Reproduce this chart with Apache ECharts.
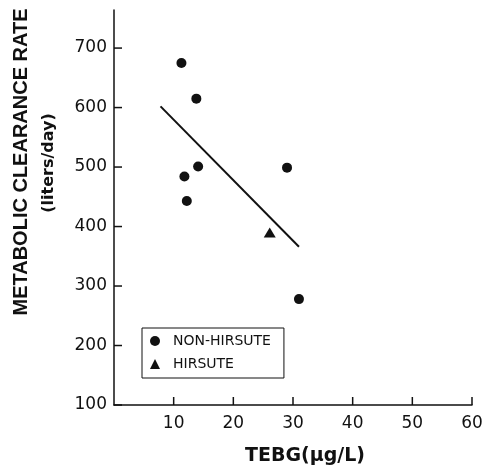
<!DOCTYPE html>
<html>
<head>
<meta charset="utf-8">
<script src="https://cdn.jsdelivr.net/npm/echarts@6/dist/echarts.min.js"></script>
<style>
  html, body { margin: 0; padding: 0; background: #fff; }
  #chart { width: 490px; height: 470px; }
</style>
</head>
<body>
<div id="chart"></div>
<script>
// Datos
const nonHirsuteX = [11.3, 13.8, 14.1, 11.8, 12.2, 29.0, 31.0];
const nonHirsuteY = [675, 615, 501, 484, 443, 499, 278];
const hirsuteX = [26.1];
const hirsuteY = [390];
const fitX = [7.8, 31.0];
const fitY = [602, 366];
const xTicks = [10, 20, 30, 40, 50, 60];
const yTicks = [100, 200, 300, 400, 500, 600, 700];

function pairs(xs, ys) {
    return xs.map((x, i) => [x, ys[i]]);
}

const chart = echarts.init(document.getElementById('chart'));
const ink = '#111';
const tickLen = 8;

// Marcas de los ejes hacia dentro, dibujadas con la escala del grafico
function tickRenderer(dx, dy) {
    return function(params, api) {
        const p = api.coord([api.value(0), api.value(1)]);
        return {
            type: 'line',
            shape: { x1: p[0], y1: p[1], x2: p[0] + dx, y2: p[1] + dy },
            style: { stroke: ink, lineWidth: 1.5 }
        };
    };
}

chart.setOption({
    animation: false,
    backgroundColor: '#fff',
    grid: { left: 114, right: 18, top: 10, bottom: 65, outerBoundsMode: 'none' },
    xAxis: {
        type: 'value',
        min: 0,
        max: 60,
        axisLine: { show: true, lineStyle: { color: ink, width: 1.5 } },
        axisTick: { show: false },
        axisLabel: { customValues: xTicks, color: ink, fontSize: 17, fontFamily: 'DejaVu Sans', margin: 10 },
        splitLine: { show: false }
    },
    yAxis: {
        type: 'value',
        min: 100,
        max: 764,
        axisLine: { show: true, lineStyle: { color: ink, width: 1.5 } },
        axisTick: { show: false },
        axisLabel: { customValues: yTicks, color: ink, fontSize: 17, fontFamily: 'DejaVu Sans', margin: 7 },
        splitLine: { show: false }
    },
    legend: {
        orient: 'vertical',
        left: 142,
        top: 328,
        padding: [6, 13, 7, 8],
        itemGap: 9,
        itemWidth: 10,
        itemHeight: 10,
        borderColor: ink,
        borderWidth: 1,
        data: [
            { name: 'NON-HIRSUTE', icon: 'circle' },
            { name: 'HIRSUTE', icon: 'triangle' }
        ],
        textStyle: { color: ink, fontSize: 14, fontFamily: 'DejaVu Sans', padding: [0, 0, 0, 8] }
    },
    graphic: [
        {
            type: 'text', x: 21, y: 162, rotation: Math.PI / 2,
            style: { text: 'METABOLIC CLEARANCE RATE', fill: ink, font: 'bold 20px "Liberation Sans"', textAlign: 'center', verticalAlign: 'middle', textVerticalAlign: 'middle' }
        },
        {
            type: 'text', x: 49, y: 163, rotation: Math.PI / 2,
            style: { text: '(liters/day)', fill: ink, font: 'bold 16px "DejaVu Sans"', textAlign: 'center', verticalAlign: 'middle', textVerticalAlign: 'middle' }
        },
        {
            type: 'text', x: 305, y: 456,
            style: { text: 'TEBG(\u03bcg/L)', fill: ink, font: 'bold 19px "DejaVu Sans"', textAlign: 'center', verticalAlign: 'middle', textVerticalAlign: 'middle' }
        }
    ],
    series: [
        {
            name: 'xTicks',
            type: 'custom',
            data: xTicks.map(v => [v, 100]),
            renderItem: tickRenderer(0, -tickLen),
            silent: true,
            z: 2
        },
        {
            name: 'yTicks',
            type: 'custom',
            data: yTicks.map(v => [0, v]),
            renderItem: tickRenderer(tickLen, 0),
            silent: true,
            z: 2
        },
        {
            name: 'fit',
            type: 'line',
            data: pairs(fitX, fitY),
            symbol: 'none',
            lineStyle: { color: ink, width: 2 },
            z: 1
        },
        {
            name: 'NON-HIRSUTE',
            type: 'scatter',
            data: pairs(nonHirsuteX, nonHirsuteY),
            symbol: 'circle',
            symbolSize: 10,
            itemStyle: { color: ink, opacity: 1 },
            z: 3
        },
        {
            name: 'HIRSUTE',
            type: 'scatter',
            data: pairs(hirsuteX, hirsuteY),
            symbol: 'triangle',
            symbolSize: [12, 10],
            itemStyle: { color: ink, opacity: 1 },
            z: 3
        }
    ]
});
</script>
</body>
</html>
